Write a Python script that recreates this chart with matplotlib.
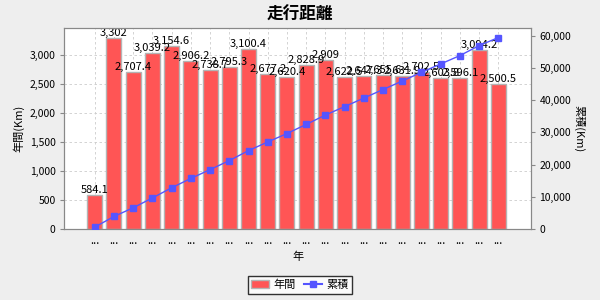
import numpy as np
import matplotlib
matplotlib.use('Agg')
import matplotlib.pyplot as plt
from matplotlib.ticker import FuncFormatter, MultipleLocator
from matplotlib.lines import Line2D
from matplotlib.patches import Patch

plt.rcParams['font.family'] = ['Noto Sans CJK JP', 'DejaVu Sans']

# annual distance per year (km)
categories = ['...'] * 22
annual = [584.1, 3302, 2707.4, 3039.2, 3154.6, 2906.2, 2738.7, 2795.3,
          3100.4, 2677.2, 2620.4, 2828.9, 2909, 2622.5, 2647.3, 2655.6,
          2631.9, 2702.5, 2603.8, 2596.1, 3094.2, 2500.5]
cumulative = np.cumsum(annual)

BAR_COLOR = '#FF5555'
LINE_COLOR = '#5555FF'
BG = '#EEEEEE'

fig = plt.figure(figsize=(6, 3), dpi=100, facecolor=BG)
ax = fig.add_axes([0.1067, 0.2367, 0.7783, 0.67])
ax.set_facecolor('white')

x = np.arange(len(annual))
ax.bar(x, annual, width=0.78, color=BAR_COLOR, edgecolor='#B4B4B4',
       linewidth=1.0, zorder=2)

def fmt_val(v):
    s = f"{v:,.1f}"
    return s[:-2] if s.endswith('.0') else s

for xi, v in zip(x, annual):
    ax.annotate(fmt_val(v), (xi, v), xytext=(0, 0), textcoords='offset points',
                ha='center', va='bottom', fontsize=8, color='black', zorder=5)

ax.set_xlim(-1.6, 22.7)
ax.set_ylim(0, max(annual) * 1.05)
ax.yaxis.set_major_locator(MultipleLocator(500))
ax.yaxis.set_major_formatter(FuncFormatter(lambda v, p: f"{int(v):,}"))
ax.set_xticks(x)
ax.set_xticklabels(categories, fontsize=8)
ax.tick_params(axis='x', length=0, pad=5)
ax.tick_params(axis='y', labelsize=7.5, length=3, color='#888888', pad=3)
ax.grid(True, color='#CCCCCC', linestyle=(0, (3, 3)), linewidth=0.6, zorder=0)
ax.set_axisbelow(True)
ax.set_ylabel('年間(Km)', fontsize=8)
ax.set_xlabel('年', fontsize=8, labelpad=4)

ax2 = ax.twinx()
ax2.plot(x, cumulative, color=LINE_COLOR, linewidth=1.0, marker='s',
         markersize=5, zorder=4)
ax2.set_ylim(0, cumulative[-1] * 1.05)
ax2.yaxis.set_major_locator(MultipleLocator(10000))
ax2.yaxis.set_major_formatter(FuncFormatter(lambda v, p: f"{int(v):,}"))
ax2.tick_params(axis='y', labelsize=7.5, length=3, color='#888888', pad=3)
ax2.set_ylabel('累積(Km)', fontsize=8, rotation=-90, labelpad=10)

for a in (ax, ax2):
    for sp in a.spines.values():
        sp.set_color('#888888')
        sp.set_linewidth(0.8)

fig.text(0.5, 0.95, '走行距離', ha='center', va='center', fontsize=12,
         fontweight='bold')

handles = [Patch(facecolor=BAR_COLOR, edgecolor='#B4B4B4', label='年間'),
           Line2D([0], [0], color=LINE_COLOR, marker='s', markersize=5,
                  label='累積')]
leg = fig.legend(handles=handles, loc='center', bbox_to_anchor=(0.5, 0.05),
                 ncol=2, fontsize=8, frameon=True, fancybox=False,
                 handlelength=1.6, handletextpad=0.4, columnspacing=0.8,
                 borderpad=0.3)
leg.get_frame().set_edgecolor('black')
leg.get_frame().set_linewidth(1.0)

fig.savefig('out.png', dpi=100, facecolor=BG)
